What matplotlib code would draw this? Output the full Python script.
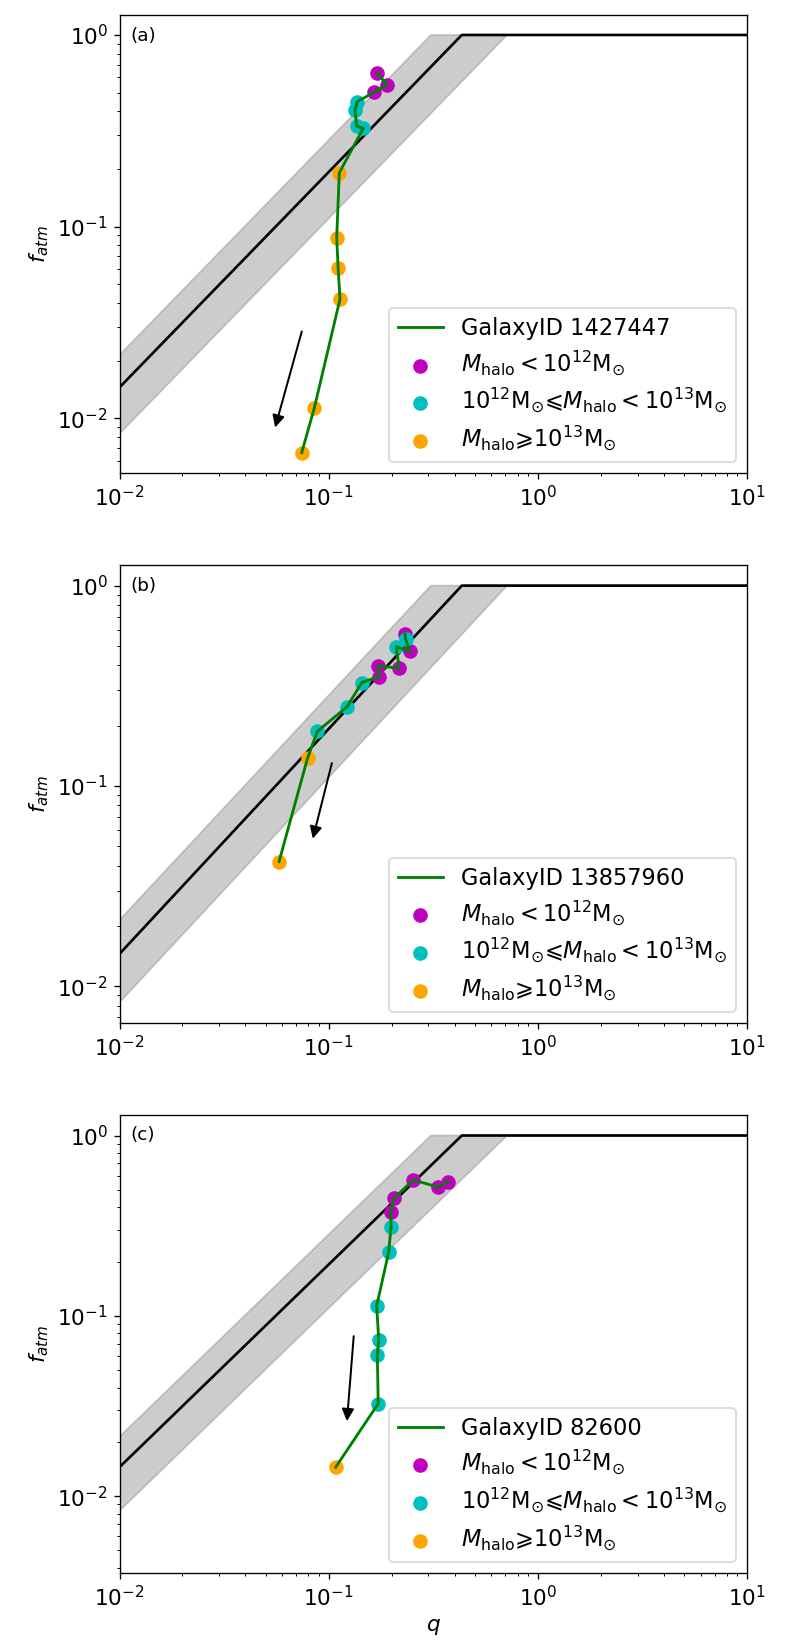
import matplotlib
matplotlib.use("Agg")
import matplotlib.pyplot as plt

# -----------------------------------
# Data
# -----------------------------------

# model line: f_atm vs q (corners of the broken line)
model_q = [0.01, 0.433, 10.0]
model_f = [0.0145, 1.0, 1.0]

# grey band: upper and lower edges
band_hi_q = [0.01, 0.308, 10.0]
band_hi_f = [0.0214, 1.0, 1.0]
band_lo_q = [10.0, 0.713, 0.01]
band_lo_f = [1.0, 1.0, 0.0083]

# (a) GalaxyID 1427447
a_q = [0.1708, 0.1905, 0.1646, 0.137, 0.1336, 0.136, 0.1463,
       0.1124, 0.1092, 0.111, 0.1132, 0.0853, 0.0743]
a_f = [0.631, 0.548, 0.502, 0.449, 0.406, 0.335, 0.326,
       0.191, 0.0869, 0.0606, 0.0418, 0.01128, 0.00662]
a_bin = ["lo", "lo", "lo", "mid", "mid", "mid", "mid",
         "hi", "hi", "hi", "hi", "hi", "hi"]

# (b) GalaxyID 13857960
b_q = [0.2316, 0.233, 0.2447, 0.2098, 0.2175, 0.1726, 0.1746,
       0.1438, 0.1227, 0.0882, 0.0793, 0.0579]
b_f = [0.574, 0.541, 0.469, 0.496, 0.387, 0.3975, 0.3516,
       0.328, 0.249, 0.187, 0.138, 0.0419]
b_bin = ["lo", "mid", "lo", "mid", "lo", "lo", "lo",
         "mid", "mid", "mid", "hi", "hi"]

# (c) GalaxyID 82600
c_q = [0.373, 0.334, 0.2538, 0.2051, 0.198, 0.1986, 0.1935,
       0.1696, 0.1734, 0.1708, 0.1725, 0.108]
c_f = [0.555, 0.517, 0.567, 0.449, 0.378, 0.310, 0.225,
       0.1137, 0.0739, 0.0605, 0.0326, 0.01449]
c_bin = ["lo", "lo", "lo", "lo", "lo", "mid", "mid",
         "mid", "mid", "mid", "mid", "hi"]

# arrows: (tail q, tail f, head q, head f)
arrows = [
    (0.0751, 0.0295, 0.0549, 0.00861),
    (0.1045, 0.1349, 0.0832, 0.0525),
    (0.1321, 0.0805, 0.1219, 0.0250),
]

galaxy_ids = ["1427447", "13857960", "82600"]
panel_tags = ["(a)", "(b)", "(c)"]
ylims = [(10**-2.287, 10**0.104),
         (10**-2.185, 10**0.103),
         (10**-2.426, 10**0.115)]

bins = ["lo", "mid", "hi"]
bin_colors = {"lo": "m", "mid": "c", "hi": "orange"}
bin_labels = {
    "lo": r"$M_{\rm halo}<10^{12}{\rm M}_{\odot}$",
    "mid": r"$10^{12}{\rm M}_{\odot}$⩽$M_{\rm halo}<10^{13}{\rm M}_{\odot}$",
    "hi": r"$M_{\rm halo}$⩾$10^{13}{\rm M}_{\odot}$",
}

panels = [(a_q, a_f, a_bin), (b_q, b_f, b_bin), (c_q, c_f, c_bin)]

# -----------------------------------
# Figure
# -----------------------------------

fig = plt.figure(figsize=(789 / 120, 1652 / 120), dpi=120)

bottoms = [0.7135, 0.3806, 0.0478]

for i, (qs, fs, bs) in enumerate(panels):
    ax = fig.add_axes([0.1515, bottoms[i], 0.7953, 0.2774])

    ax.fill(band_hi_q + band_lo_q, band_hi_f + band_lo_f,
            color="grey", alpha=0.4, lw=1)
    ax.plot(model_q, model_f, color="k", lw=1.6)

    handles = []
    for b in bins:
        sq = [q for q, bb in zip(qs, bs) if bb == b]
        sf = [f for f, bb in zip(fs, bs) if bb == b]
        h = ax.scatter(sq, sf, color=bin_colors[b], s=60,
                       label=bin_labels[b], zorder=3)
        handles.append(h)

    line, = ax.plot(qs, fs, color="green", lw=1.7,
                    label="GalaxyID " + galaxy_ids[i], zorder=4)

    tq, tf, hq, hf = arrows[i]
    ax.annotate("", xy=(hq, hf), xytext=(tq, tf),
                arrowprops=dict(arrowstyle="-|>", color="k",
                                lw=1.2, mutation_scale=15))

    ax.set_xscale("log")
    ax.set_yscale("log")
    ax.set_xlim(1e-2, 1e1)
    ax.set_ylim(*ylims[i])

    ax.tick_params(labelsize=13)
    ax.set_ylabel(r"$f_{atm}$", fontsize=13)

    ax.text(0.017, 0.955, panel_tags[i], transform=ax.transAxes,
            fontsize=11, va="center", ha="left")

    ax.legend(handles=[line] + handles, loc="lower right",
              fontsize=13.5, labelspacing=0.37)

    if i == 2:
        ax.set_xlabel(r"$q$", fontsize=13)

fig.savefig("out.png", dpi=120)
